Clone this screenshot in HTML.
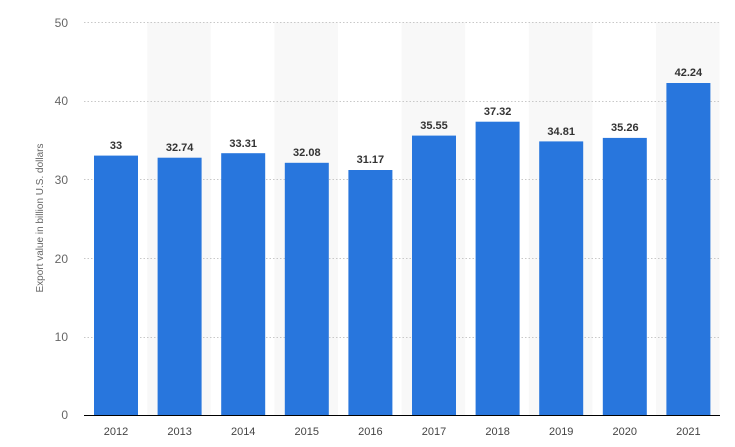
<!DOCTYPE html>
<html><head><meta charset="utf-8"><style>
html,body{margin:0;padding:0;background:#fff;}
svg{display:block;font-family:"Liberation Sans",sans-serif;}
</style></head><body>
<svg width="735" height="447" viewBox="0 0 735 447">
<rect width="735" height="447" fill="#fff"/>
<g fill="#f8f8f8">
<rect x="147.2" y="22" width="63.6" height="393"/>
<rect x="274.4" y="22" width="63.6" height="393"/>
<rect x="401.6" y="22" width="63.6" height="393"/>
<rect x="528.8" y="22" width="63.6" height="393"/>
<rect x="656" y="22" width="63.6" height="393"/>
</g>
<g stroke="#c8c8c8" stroke-width="1" stroke-dasharray="1.5,2">
<line x1="84" x2="720" y1="22.5" y2="22.5"/>
<line x1="84" x2="720" y1="101.5" y2="101.5"/>
<line x1="84" x2="720" y1="179.5" y2="179.5"/>
<line x1="84" x2="720" y1="258.5" y2="258.5"/>
<line x1="84" x2="720" y1="337.5" y2="337.5"/>
</g>
<g font-size="12" fill="#666" text-anchor="end">
<text x="68" y="27">50</text>
<text x="68" y="105">40</text>
<text x="68" y="184">30</text>
<text x="68" y="263">20</text>
<text x="68" y="341">10</text>
<text x="68" y="419">0</text>
</g>
<text transform="translate(43,218) rotate(-90)" font-size="10" fill="#666" text-anchor="middle">Export value in billion U.S. dollars</text>
<g fill="#2876dd">
<rect x="94" y="155.6" width="44" height="259.4"/>
<rect x="157.6" y="157.7" width="44" height="257.3"/>
<rect x="221.2" y="153.2" width="44" height="261.8"/>
<rect x="284.8" y="162.8" width="44" height="252.2"/>
<rect x="348.4" y="170" width="44" height="245"/>
<rect x="412" y="135.6" width="44" height="279.4"/>
<rect x="475.6" y="121.7" width="44" height="293.3"/>
<rect x="539.2" y="141.4" width="44" height="273.6"/>
<rect x="602.8" y="137.9" width="44" height="277.1"/>
<rect x="666.4" y="83" width="44" height="332"/>
</g>
<g font-size="11" font-weight="bold" fill="#333" text-anchor="middle">
<text x="116" y="149">33</text>
<text x="179.6" y="151">32.74</text>
<text x="243.2" y="147">33.31</text>
<text x="306.8" y="156">32.08</text>
<text x="370.4" y="163">31.17</text>
<text x="434" y="129">35.55</text>
<text x="497.6" y="115">37.32</text>
<text x="561.2" y="135">34.81</text>
<text x="624.8" y="131">35.26</text>
<text x="688.4" y="76">42.24</text>
</g>
<line x1="84" x2="720" y1="415.5" y2="415.5" stroke="#000" stroke-width="1"/>
<g font-size="11" fill="#444" text-anchor="middle">
<text x="116" y="435">2012</text>
<text x="179.6" y="435">2013</text>
<text x="243.2" y="435">2014</text>
<text x="306.8" y="435">2015</text>
<text x="370.4" y="435">2016</text>
<text x="434" y="435">2017</text>
<text x="497.6" y="435">2018</text>
<text x="561.2" y="435">2019</text>
<text x="624.8" y="435">2020</text>
<text x="688.4" y="435">2021</text>
</g>
</svg>
</body></html>
